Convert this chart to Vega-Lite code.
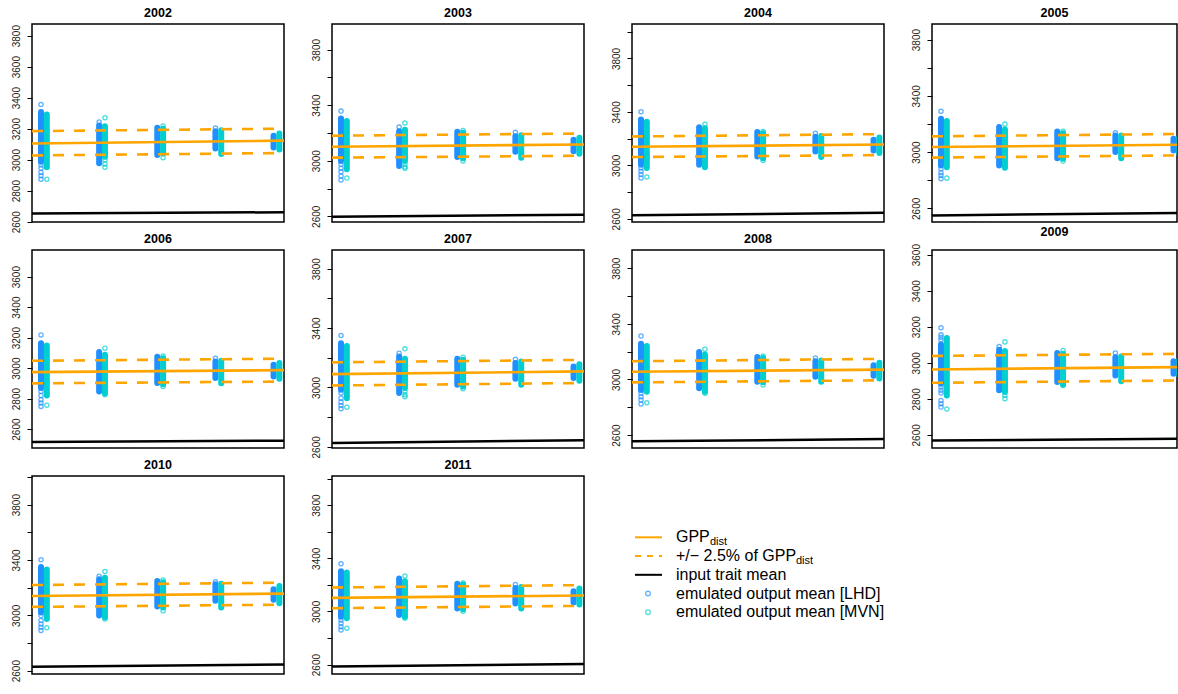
{
"$schema":"https://vega.github.io/schema/vega-lite/v6.json",
"background":"white",
"padding":{"left":10,"top":5,"right":0,"bottom":0},
"columns":4,
"spacing":{"row":28,"column":48},
"bounds":"flush",
"align":"each",
"data":{"values":[
{"p":2002,"k":"st","s":"LHD","x":1,"v":2987,"v2":3307},{"p":2002,"k":"st","s":"MVN","x":1.1,"v":2951,"v2":3292},
{"p":2002,"k":"st","s":"LHD","x":2,"v":2977,"v2":3221},{"p":2002,"k":"st","s":"MVN","x":2.1,"v":3019,"v2":3215},
{"p":2002,"k":"st","s":"LHD","x":3,"v":3030,"v2":3206},{"p":2002,"k":"st","s":"MVN","x":3.1,"v":3040,"v2":3200},
{"p":2002,"k":"st","s":"LHD","x":4,"v":3072,"v2":3183},{"p":2002,"k":"st","s":"MVN","x":4.1,"v":3036,"v2":3189},
{"p":2002,"k":"st","s":"LHD","x":5,"v":3079,"v2":3155},{"p":2002,"k":"st","s":"MVN","x":5.1,"v":3066,"v2":3168},
{"p":2002,"k":"pt","s":"LHD","x":1,"v":3356},{"p":2002,"k":"pt","s":"LHD","x":1,"v":2966},{"p":2002,"k":"pt","s":"LHD","x":1,"v":2945},{"p":2002,"k":"pt","s":"LHD","x":1,"v":2917},{"p":2002,"k":"pt","s":"LHD","x":1,"v":2896},{"p":2002,"k":"pt","s":"LHD","x":1,"v":2874},
{"p":2002,"k":"pt","s":"MVN","x":1.1,"v":2874},{"p":2002,"k":"pt","s":"LHD","x":2,"v":3243},
{"p":2002,"k":"pt","s":"MVN","x":2.1,"v":3270},{"p":2002,"k":"pt","s":"MVN","x":2.1,"v":2998},{"p":2002,"k":"pt","s":"MVN","x":2.1,"v":2972},{"p":2002,"k":"pt","s":"MVN","x":2.1,"v":2951},
{"p":2002,"k":"pt","s":"MVN","x":3.1,"v":3217},{"p":2002,"k":"pt","s":"MVN","x":3.1,"v":3013},{"p":2002,"k":"pt","s":"LHD","x":4,"v":3204},
{"p":2002,"k":"c","x":0.845,"v":3104},{"p":2002,"k":"c","x":5.18,"v":3123},
{"p":2002,"k":"u","x":0.845,"v":3184},{"p":2002,"k":"u","x":5.18,"v":3200},
{"p":2002,"k":"l","x":0.845,"v":3027},{"p":2002,"k":"l","x":5.18,"v":3043},
{"p":2002,"k":"b","x":0.845,"v":2653},{"p":2002,"k":"b","x":5.18,"v":2661},

{"p":2003,"k":"st","s":"LHD","x":1,"v":2998,"v2":3304},{"p":2003,"k":"st","s":"MVN","x":1.1,"v":2938,"v2":3285},
{"p":2003,"k":"st","s":"LHD","x":2,"v":2962,"v2":3213},{"p":2003,"k":"st","s":"MVN","x":2.1,"v":2998,"v2":3223},
{"p":2003,"k":"st","s":"LHD","x":3,"v":3026,"v2":3208},{"p":2003,"k":"st","s":"MVN","x":3.1,"v":3017,"v2":3201},
{"p":2003,"k":"st","s":"LHD","x":4,"v":3065,"v2":3177},{"p":2003,"k":"st","s":"MVN","x":4.1,"v":3022,"v2":3184},
{"p":2003,"k":"st","s":"LHD","x":5,"v":3069,"v2":3151},{"p":2003,"k":"st","s":"MVN","x":5.1,"v":3050,"v2":3165},
{"p":2003,"k":"pt","s":"LHD","x":1,"v":3357},{"p":2003,"k":"pt","s":"LHD","x":1,"v":2974},{"p":2003,"k":"pt","s":"LHD","x":1,"v":2945},{"p":2003,"k":"pt","s":"LHD","x":1,"v":2921},{"p":2003,"k":"pt","s":"LHD","x":1,"v":2890},{"p":2003,"k":"pt","s":"LHD","x":1,"v":2861},
{"p":2003,"k":"pt","s":"MVN","x":1.1,"v":2875},{"p":2003,"k":"pt","s":"LHD","x":2,"v":3242},
{"p":2003,"k":"pt","s":"MVN","x":2.1,"v":3271},{"p":2003,"k":"pt","s":"MVN","x":2.1,"v":2974},{"p":2003,"k":"pt","s":"MVN","x":2.1,"v":2955},{"p":2003,"k":"pt","s":"MVN","x":2.1,"v":2945},
{"p":2003,"k":"pt","s":"MVN","x":3.1,"v":3218},{"p":2003,"k":"pt","s":"MVN","x":3.1,"v":2998},{"p":2003,"k":"pt","s":"LHD","x":4,"v":3204},
{"p":2003,"k":"c","x":0.845,"v":3101},{"p":2003,"k":"c","x":5.18,"v":3117},
{"p":2003,"k":"u","x":0.845,"v":3180},{"p":2003,"k":"u","x":5.18,"v":3196},
{"p":2003,"k":"l","x":0.845,"v":3022},{"p":2003,"k":"l","x":5.18,"v":3036},
{"p":2003,"k":"b","x":0.845,"v":2596},{"p":2003,"k":"b","x":5.18,"v":2612},

{"p":2004,"k":"st","s":"LHD","x":1,"v":3005,"v2":3344},{"p":2004,"k":"st","s":"MVN","x":1.1,"v":2980,"v2":3327},
{"p":2004,"k":"st","s":"LHD","x":2,"v":3005,"v2":3285},{"p":2004,"k":"st","s":"MVN","x":2.1,"v":2985,"v2":3277},
{"p":2004,"k":"st","s":"LHD","x":3,"v":3067,"v2":3250},{"p":2004,"k":"st","s":"MVN","x":3.1,"v":3054,"v2":3240},
{"p":2004,"k":"st","s":"LHD","x":4,"v":3104,"v2":3215},{"p":2004,"k":"st","s":"MVN","x":4.1,"v":3062,"v2":3220},
{"p":2004,"k":"st","s":"LHD","x":5,"v":3111,"v2":3191},{"p":2004,"k":"st","s":"MVN","x":5.1,"v":3092,"v2":3208},
{"p":2004,"k":"pt","s":"LHD","x":1,"v":3401},{"p":2004,"k":"pt","s":"LHD","x":1,"v":2980},{"p":2004,"k":"pt","s":"LHD","x":1,"v":2955},{"p":2004,"k":"pt","s":"LHD","x":1,"v":2931},{"p":2004,"k":"pt","s":"LHD","x":1,"v":2906},
{"p":2004,"k":"pt","s":"MVN","x":1.1,"v":2913},{"p":2004,"k":"pt","s":"MVN","x":2.1,"v":3307},
{"p":2004,"k":"pt","s":"MVN","x":3.1,"v":3253},{"p":2004,"k":"pt","s":"MVN","x":3.1,"v":3037},{"p":2004,"k":"pt","s":"LHD","x":4,"v":3240},
{"p":2004,"k":"c","x":0.845,"v":3139},{"p":2004,"k":"c","x":5.18,"v":3156},
{"p":2004,"k":"u","x":0.845,"v":3216},{"p":2004,"k":"u","x":5.18,"v":3234},
{"p":2004,"k":"l","x":0.845,"v":3062},{"p":2004,"k":"l","x":5.18,"v":3077},
{"p":2004,"k":"b","x":0.845,"v":2626},{"p":2004,"k":"b","x":5.18,"v":2646},

{"p":2005,"k":"st","s":"LHD","x":1,"v":2905,"v2":3237},{"p":2005,"k":"st","s":"MVN","x":1.1,"v":2893,"v2":3222},
{"p":2005,"k":"st","s":"LHD","x":2,"v":2905,"v2":3178},{"p":2005,"k":"st","s":"MVN","x":2.1,"v":2889,"v2":3161},
{"p":2005,"k":"st","s":"LHD","x":3,"v":2957,"v2":3147},{"p":2005,"k":"st","s":"MVN","x":3.1,"v":2953,"v2":3135},
{"p":2005,"k":"st","s":"LHD","x":4,"v":3000,"v2":3118},{"p":2005,"k":"st","s":"MVN","x":4.1,"v":2957,"v2":3118},
{"p":2005,"k":"st","s":"LHD","x":5,"v":3012,"v2":3095},{"p":2005,"k":"st","s":"MVN","x":5.1,"v":2988,"v2":3106},
{"p":2005,"k":"pt","s":"LHD","x":1,"v":3291},{"p":2005,"k":"pt","s":"LHD","x":1,"v":2882},{"p":2005,"k":"pt","s":"LHD","x":1,"v":2853},{"p":2005,"k":"pt","s":"LHD","x":1,"v":2834},{"p":2005,"k":"pt","s":"LHD","x":1,"v":2811},
{"p":2005,"k":"pt","s":"MVN","x":1.1,"v":2815},{"p":2005,"k":"pt","s":"MVN","x":2.1,"v":3199},
{"p":2005,"k":"pt","s":"MVN","x":3.1,"v":3149},{"p":2005,"k":"pt","s":"MVN","x":3.1,"v":2936},{"p":2005,"k":"pt","s":"LHD","x":4,"v":3137},
{"p":2005,"k":"c","x":0.845,"v":3036},{"p":2005,"k":"c","x":5.18,"v":3053},
{"p":2005,"k":"u","x":0.845,"v":3112},{"p":2005,"k":"u","x":5.18,"v":3129},
{"p":2005,"k":"l","x":0.845,"v":2961},{"p":2005,"k":"l","x":5.18,"v":2977},
{"p":2005,"k":"b","x":0.845,"v":2550},{"p":2005,"k":"b","x":5.18,"v":2567},

{"p":2006,"k":"st","s":"LHD","x":1,"v":2869,"v2":3164},{"p":2006,"k":"st","s":"MVN","x":1.1,"v":2821,"v2":3148},
{"p":2006,"k":"st","s":"LHD","x":2,"v":2847,"v2":3105},{"p":2006,"k":"st","s":"MVN","x":2.1,"v":2836,"v2":3087},
{"p":2006,"k":"st","s":"LHD","x":3,"v":2902,"v2":3074},{"p":2006,"k":"st","s":"MVN","x":3.1,"v":2895,"v2":3065},
{"p":2006,"k":"st","s":"LHD","x":4,"v":2935,"v2":3044},{"p":2006,"k":"st","s":"MVN","x":4.1,"v":2900,"v2":3048},
{"p":2006,"k":"st","s":"LHD","x":5,"v":2945,"v2":3022},{"p":2006,"k":"st","s":"MVN","x":5.1,"v":2930,"v2":3033},
{"p":2006,"k":"pt","s":"LHD","x":1,"v":3218},{"p":2006,"k":"pt","s":"LHD","x":1,"v":2847},{"p":2006,"k":"pt","s":"LHD","x":1,"v":2821},{"p":2006,"k":"pt","s":"LHD","x":1,"v":2793},{"p":2006,"k":"pt","s":"LHD","x":1,"v":2771},{"p":2006,"k":"pt","s":"LHD","x":1,"v":2749},
{"p":2006,"k":"pt","s":"MVN","x":1.1,"v":2756},{"p":2006,"k":"pt","s":"MVN","x":2.1,"v":3131},{"p":2006,"k":"pt","s":"MVN","x":2.1,"v":2825},
{"p":2006,"k":"pt","s":"MVN","x":3.1,"v":3079},{"p":2006,"k":"pt","s":"MVN","x":3.1,"v":2880},{"p":2006,"k":"pt","s":"LHD","x":4,"v":3065},
{"p":2006,"k":"c","x":0.845,"v":2974},{"p":2006,"k":"c","x":5.18,"v":2987},
{"p":2006,"k":"u","x":0.845,"v":3048},{"p":2006,"k":"u","x":5.18,"v":3062},
{"p":2006,"k":"l","x":0.845,"v":2900},{"p":2006,"k":"l","x":5.18,"v":2912},
{"p":2006,"k":"b","x":0.845,"v":2516},{"p":2006,"k":"b","x":5.18,"v":2524},

{"p":2007,"k":"st","s":"LHD","x":1,"v":2984,"v2":3298},{"p":2007,"k":"st","s":"MVN","x":1.1,"v":2928,"v2":3280},
{"p":2007,"k":"st","s":"LHD","x":2,"v":2962,"v2":3208},{"p":2007,"k":"st","s":"MVN","x":2.1,"v":2996,"v2":3193},
{"p":2007,"k":"st","s":"LHD","x":3,"v":3018,"v2":3193},{"p":2007,"k":"st","s":"MVN","x":3.1,"v":3007,"v2":3186},
{"p":2007,"k":"st","s":"LHD","x":4,"v":3058,"v2":3164},{"p":2007,"k":"st","s":"MVN","x":4.1,"v":3018,"v2":3175},
{"p":2007,"k":"st","s":"LHD","x":5,"v":3063,"v2":3141},{"p":2007,"k":"st","s":"MVN","x":5.1,"v":3045,"v2":3157},
{"p":2007,"k":"pt","s":"LHD","x":1,"v":3350},{"p":2007,"k":"pt","s":"LHD","x":1,"v":2962},{"p":2007,"k":"pt","s":"LHD","x":1,"v":2928},{"p":2007,"k":"pt","s":"LHD","x":1,"v":2901},{"p":2007,"k":"pt","s":"LHD","x":1,"v":2879},{"p":2007,"k":"pt","s":"LHD","x":1,"v":2857},
{"p":2007,"k":"pt","s":"MVN","x":1.1,"v":2866},{"p":2007,"k":"pt","s":"LHD","x":2,"v":3231},
{"p":2007,"k":"pt","s":"MVN","x":2.1,"v":3260},{"p":2007,"k":"pt","s":"MVN","x":2.1,"v":2973},{"p":2007,"k":"pt","s":"MVN","x":2.1,"v":2951},{"p":2007,"k":"pt","s":"MVN","x":2.1,"v":2937},
{"p":2007,"k":"pt","s":"MVN","x":3.1,"v":3204},{"p":2007,"k":"pt","s":"MVN","x":3.1,"v":2991},{"p":2007,"k":"pt","s":"LHD","x":4,"v":3190},
{"p":2007,"k":"c","x":0.845,"v":3090},{"p":2007,"k":"c","x":5.18,"v":3108},
{"p":2007,"k":"u","x":0.845,"v":3169},{"p":2007,"k":"u","x":5.18,"v":3186},
{"p":2007,"k":"l","x":0.845,"v":3013},{"p":2007,"k":"l","x":5.18,"v":3030},
{"p":2007,"k":"b","x":0.845,"v":2626},{"p":2007,"k":"b","x":5.18,"v":2644},

{"p":2008,"k":"st","s":"LHD","x":1,"v":2924,"v2":3257},{"p":2008,"k":"st","s":"MVN","x":1.1,"v":2912,"v2":3240},
{"p":2008,"k":"st","s":"LHD","x":2,"v":2936,"v2":3198},{"p":2008,"k":"st","s":"MVN","x":2.1,"v":2912,"v2":3179},
{"p":2008,"k":"st","s":"LHD","x":3,"v":2983,"v2":3162},{"p":2008,"k":"st","s":"MVN","x":3.1,"v":2979,"v2":3155},
{"p":2008,"k":"st","s":"LHD","x":4,"v":3019,"v2":3131},{"p":2008,"k":"st","s":"MVN","x":4.1,"v":2983,"v2":3136},
{"p":2008,"k":"st","s":"LHD","x":5,"v":3026,"v2":3102},{"p":2008,"k":"st","s":"MVN","x":5.1,"v":3007,"v2":3121},
{"p":2008,"k":"pt","s":"LHD","x":1,"v":3312},{"p":2008,"k":"pt","s":"LHD","x":1,"v":2900},{"p":2008,"k":"pt","s":"LHD","x":1,"v":2876},{"p":2008,"k":"pt","s":"LHD","x":1,"v":2852},{"p":2008,"k":"pt","s":"LHD","x":1,"v":2824},
{"p":2008,"k":"pt","s":"MVN","x":1.1,"v":2833},{"p":2008,"k":"pt","s":"MVN","x":2.1,"v":3217},{"p":2008,"k":"pt","s":"MVN","x":2.1,"v":2900},
{"p":2008,"k":"pt","s":"MVN","x":3.1,"v":3169},{"p":2008,"k":"pt","s":"MVN","x":3.1,"v":2960},{"p":2008,"k":"pt","s":"LHD","x":4,"v":3155},
{"p":2008,"k":"c","x":0.845,"v":3055},{"p":2008,"k":"c","x":5.18,"v":3071},
{"p":2008,"k":"u","x":0.845,"v":3131},{"p":2008,"k":"u","x":5.18,"v":3148},
{"p":2008,"k":"l","x":0.845,"v":2979},{"p":2008,"k":"l","x":5.18,"v":2994},
{"p":2008,"k":"b","x":0.845,"v":2555},{"p":2008,"k":"b","x":5.18,"v":2571},

{"p":2009,"k":"st","s":"LHD","x":1,"v":2884,"v2":3102},{"p":2009,"k":"st","s":"MVN","x":1.1,"v":2819,"v2":3138},
{"p":2009,"k":"st","s":"LHD","x":2,"v":2847,"v2":3072},{"p":2009,"k":"st","s":"MVN","x":2.1,"v":2838,"v2":3065},
{"p":2009,"k":"st","s":"LHD","x":3,"v":2893,"v2":3054},{"p":2009,"k":"st","s":"MVN","x":3.1,"v":2880,"v2":3050},
{"p":2009,"k":"st","s":"LHD","x":4,"v":2930,"v2":3031},{"p":2009,"k":"st","s":"MVN","x":4.1,"v":2898,"v2":3035},
{"p":2009,"k":"st","s":"LHD","x":5,"v":2939,"v2":3009},{"p":2009,"k":"st","s":"MVN","x":5.1,"v":2930,"v2":3017},
{"p":2009,"k":"pt","s":"LHD","x":1,"v":3194},{"p":2009,"k":"pt","s":"LHD","x":1,"v":3155},{"p":2009,"k":"pt","s":"LHD","x":1,"v":3142},{"p":2009,"k":"pt","s":"LHD","x":1,"v":3127},{"p":2009,"k":"pt","s":"LHD","x":1,"v":2865},{"p":2009,"k":"pt","s":"LHD","x":1,"v":2847},{"p":2009,"k":"pt","s":"LHD","x":1,"v":2832},{"p":2009,"k":"pt","s":"LHD","x":1,"v":2791},{"p":2009,"k":"pt","s":"LHD","x":1,"v":2773},{"p":2009,"k":"pt","s":"LHD","x":1,"v":2754},
{"p":2009,"k":"pt","s":"MVN","x":1.1,"v":2743},{"p":2009,"k":"pt","s":"LHD","x":2,"v":3090},
{"p":2009,"k":"pt","s":"MVN","x":2.1,"v":3116},{"p":2009,"k":"pt","s":"MVN","x":2.1,"v":2819},{"p":2009,"k":"pt","s":"MVN","x":2.1,"v":2801},
{"p":2009,"k":"pt","s":"MVN","x":3.1,"v":3068},{"p":2009,"k":"pt","s":"MVN","x":3.1,"v":2874},{"p":2009,"k":"pt","s":"LHD","x":4,"v":3054},
{"p":2009,"k":"c","x":0.845,"v":2963},{"p":2009,"k":"c","x":5.18,"v":2976},
{"p":2009,"k":"u","x":0.845,"v":3038},{"p":2009,"k":"u","x":5.18,"v":3050},
{"p":2009,"k":"l","x":0.845,"v":2889},{"p":2009,"k":"l","x":5.18,"v":2902},
{"p":2009,"k":"b","x":0.845,"v":2568},{"p":2009,"k":"b","x":5.18,"v":2579},

{"p":2010,"k":"st","s":"LHD","x":1,"v":3021,"v2":3350},{"p":2010,"k":"st","s":"MVN","x":1.1,"v":2974,"v2":3331},
{"p":2010,"k":"st","s":"LHD","x":2,"v":2998,"v2":3260},{"p":2010,"k":"st","s":"MVN","x":2.1,"v":2986,"v2":3271},
{"p":2010,"k":"st","s":"LHD","x":3,"v":3064,"v2":3248},{"p":2010,"k":"st","s":"MVN","x":3.1,"v":3057,"v2":3240},
{"p":2010,"k":"st","s":"LHD","x":4,"v":3105,"v2":3224},{"p":2010,"k":"st","s":"MVN","x":4.1,"v":3057,"v2":3229},
{"p":2010,"k":"st","s":"LHD","x":5,"v":3112,"v2":3188},{"p":2010,"k":"st","s":"MVN","x":5.1,"v":3088,"v2":3212},
{"p":2010,"k":"pt","s":"LHD","x":1,"v":3402},{"p":2010,"k":"pt","s":"LHD","x":1,"v":2998},{"p":2010,"k":"pt","s":"LHD","x":1,"v":2962},{"p":2010,"k":"pt","s":"LHD","x":1,"v":2938},{"p":2010,"k":"pt","s":"LHD","x":1,"v":2914},{"p":2010,"k":"pt","s":"LHD","x":1,"v":2890},
{"p":2010,"k":"pt","s":"MVN","x":1.1,"v":2910},{"p":2010,"k":"pt","s":"LHD","x":2,"v":3283},
{"p":2010,"k":"pt","s":"MVN","x":2.1,"v":3317},{"p":2010,"k":"pt","s":"MVN","x":2.1,"v":2974},
{"p":2010,"k":"pt","s":"MVN","x":3.1,"v":3255},{"p":2010,"k":"pt","s":"MVN","x":3.1,"v":3033},{"p":2010,"k":"pt","s":"LHD","x":4,"v":3243},
{"p":2010,"k":"c","x":0.845,"v":3140},{"p":2010,"k":"c","x":5.18,"v":3157},
{"p":2010,"k":"u","x":0.845,"v":3219},{"p":2010,"k":"u","x":5.18,"v":3236},
{"p":2010,"k":"l","x":0.845,"v":3061},{"p":2010,"k":"l","x":5.18,"v":3077},
{"p":2010,"k":"b","x":0.845,"v":2629},{"p":2010,"k":"b","x":5.18,"v":2645},

{"p":2011,"k":"st","s":"LHD","x":1,"v":2960,"v2":3302},{"p":2011,"k":"st","s":"MVN","x":1.1,"v":2948,"v2":3292},
{"p":2011,"k":"st","s":"LHD","x":2,"v":2973,"v2":3247},{"p":2011,"k":"st","s":"MVN","x":2.1,"v":2960,"v2":3227},
{"p":2011,"k":"st","s":"LHD","x":3,"v":3022,"v2":3209},{"p":2011,"k":"st","s":"MVN","x":3.1,"v":3017,"v2":3202},
{"p":2011,"k":"st","s":"LHD","x":4,"v":3060,"v2":3177},{"p":2011,"k":"st","s":"MVN","x":4.1,"v":3022,"v2":3184},
{"p":2011,"k":"st","s":"LHD","x":5,"v":3067,"v2":3152},{"p":2011,"k":"st","s":"MVN","x":5.1,"v":3052,"v2":3172},
{"p":2011,"k":"pt","s":"LHD","x":1,"v":3359},{"p":2011,"k":"pt","s":"LHD","x":1,"v":2935},{"p":2011,"k":"pt","s":"LHD","x":1,"v":2910},{"p":2011,"k":"pt","s":"LHD","x":1,"v":2885},{"p":2011,"k":"pt","s":"LHD","x":1,"v":2860},
{"p":2011,"k":"pt","s":"MVN","x":1.1,"v":2873},{"p":2011,"k":"pt","s":"MVN","x":2.1,"v":3267},{"p":2011,"k":"pt","s":"MVN","x":2.1,"v":2948},
{"p":2011,"k":"pt","s":"MVN","x":3.1,"v":3214},{"p":2011,"k":"pt","s":"MVN","x":3.1,"v":3002},{"p":2011,"k":"pt","s":"LHD","x":4,"v":3202},
{"p":2011,"k":"c","x":0.845,"v":3102},{"p":2011,"k":"c","x":5.18,"v":3120},
{"p":2011,"k":"u","x":0.845,"v":3180},{"p":2011,"k":"u","x":5.18,"v":3198},
{"p":2011,"k":"l","x":0.845,"v":3024},{"p":2011,"k":"l","x":5.18,"v":3042},
{"p":2011,"k":"b","x":0.845,"v":2586},{"p":2011,"k":"b","x":5.18,"v":2604}
]},
"concat":[
{"title":"2002","width":252,"height":198,"transform":[{"filter":"datum.p==2002"}],
 "encoding":{"x":{"field":"x","type":"quantitative","scale":{"domain":[0.845,5.18],"nice":false,"zero":false},"axis":null},
  "y":{"field":"v","type":"quantitative","scale":{"domain":[2598,3875],"nice":false,"zero":false},"axis":{"title":null,"format":"d","values":[2600,2800,3000,3200,3400,3600,3800]}}},
 "layer":[
  {"transform":[{"filter":"datum.k=='st'"}],"mark":{"type":"rule","strokeWidth":6,"strokeCap":"round"},"encoding":{"y2":{"field":"v2"},"color":{"field":"s","type":"nominal","scale":{"domain":["LHD","MVN"],"range":["#1E90FF","#00CED1"]},"legend":null}}},
  {"transform":[{"filter":"datum.k=='pt'"}],"mark":{"type":"point","filled":false,"size":18,"strokeWidth":1.3},"encoding":{"color":{"field":"s","type":"nominal","scale":{"domain":["LHD","MVN"],"range":["#1E90FF","#00CED1"]},"legend":null}}},
  {"transform":[{"filter":"datum.k=='c'"}],"mark":{"type":"line","color":"#FFA500","strokeWidth":2.6,"clip":true}},
  {"transform":[{"filter":"datum.k=='u'||datum.k=='l'"}],"mark":{"type":"line","color":"#FFA500","strokeWidth":2.6,"strokeDash":[11,10],"clip":true},"encoding":{"detail":{"field":"k"}}},
  {"transform":[{"filter":"datum.k=='b'"}],"mark":{"type":"line","color":"black","strokeWidth":2.5,"clip":true}}
 ]},
{"title":"2003","width":252,"height":198,"transform":[{"filter":"datum.p==2003"}],
 "encoding":{"x":{"field":"x","type":"quantitative","scale":{"domain":[0.845,5.18],"nice":false,"zero":false},"axis":null},
  "y":{"field":"v","type":"quantitative","scale":{"domain":[2559,3984],"nice":false,"zero":false},"axis":{"title":null,"format":"d","values":[2600,2800,3000,3200,3400,3600,3800],"labelExpr":"(datum.value-2600)%400==0?datum.label:''"}}},
 "layer":[
  {"transform":[{"filter":"datum.k=='st'"}],"mark":{"type":"rule","strokeWidth":6,"strokeCap":"round"},"encoding":{"y2":{"field":"v2"},"color":{"field":"s","type":"nominal","scale":{"domain":["LHD","MVN"],"range":["#1E90FF","#00CED1"]},"legend":null}}},
  {"transform":[{"filter":"datum.k=='pt'"}],"mark":{"type":"point","filled":false,"size":18,"strokeWidth":1.3},"encoding":{"color":{"field":"s","type":"nominal","scale":{"domain":["LHD","MVN"],"range":["#1E90FF","#00CED1"]},"legend":null}}},
  {"transform":[{"filter":"datum.k=='c'"}],"mark":{"type":"line","color":"#FFA500","strokeWidth":2.6,"clip":true}},
  {"transform":[{"filter":"datum.k=='u'||datum.k=='l'"}],"mark":{"type":"line","color":"#FFA500","strokeWidth":2.6,"strokeDash":[11,10],"clip":true},"encoding":{"detail":{"field":"k"}}},
  {"transform":[{"filter":"datum.k=='b'"}],"mark":{"type":"line","color":"black","strokeWidth":2.5,"clip":true}}
 ]},
{"title":"2004","width":252,"height":198,"transform":[{"filter":"datum.p==2004"}],
 "encoding":{"x":{"field":"x","type":"quantitative","scale":{"domain":[0.845,5.18],"nice":false,"zero":false},"axis":null},
  "y":{"field":"v","type":"quantitative","scale":{"domain":[2576,4058],"nice":false,"zero":false},"axis":{"title":null,"format":"d","values":[2600,2800,3000,3200,3400,3600,3800,4000],"labelExpr":"(datum.value-2600)%400==0?datum.label:''"}}},
 "layer":[
  {"transform":[{"filter":"datum.k=='st'"}],"mark":{"type":"rule","strokeWidth":6,"strokeCap":"round"},"encoding":{"y2":{"field":"v2"},"color":{"field":"s","type":"nominal","scale":{"domain":["LHD","MVN"],"range":["#1E90FF","#00CED1"]},"legend":null}}},
  {"transform":[{"filter":"datum.k=='pt'"}],"mark":{"type":"point","filled":false,"size":18,"strokeWidth":1.3},"encoding":{"color":{"field":"s","type":"nominal","scale":{"domain":["LHD","MVN"],"range":["#1E90FF","#00CED1"]},"legend":null}}},
  {"transform":[{"filter":"datum.k=='c'"}],"mark":{"type":"line","color":"#FFA500","strokeWidth":2.6,"clip":true}},
  {"transform":[{"filter":"datum.k=='u'||datum.k=='l'"}],"mark":{"type":"line","color":"#FFA500","strokeWidth":2.6,"strokeDash":[11,10],"clip":true},"encoding":{"detail":{"field":"k"}}},
  {"transform":[{"filter":"datum.k=='b'"}],"mark":{"type":"line","color":"black","strokeWidth":2.5,"clip":true}}
 ]},
{"title":"2005","width":245,"height":198,"transform":[{"filter":"datum.p==2005"}],
 "encoding":{"x":{"field":"x","type":"quantitative","scale":{"domain":[0.845,5.06],"nice":false,"zero":false},"axis":null},
  "y":{"field":"v","type":"quantitative","scale":{"domain":[2503,3911],"nice":false,"zero":false},"axis":{"title":null,"format":"d","values":[2600,2800,3000,3200,3400,3600,3800],"labelExpr":"(datum.value-2600)%400==0?datum.label:''"}}},
 "layer":[
  {"transform":[{"filter":"datum.k=='st'"}],"mark":{"type":"rule","strokeWidth":6,"strokeCap":"round","clip":true},"encoding":{"y2":{"field":"v2"},"color":{"field":"s","type":"nominal","scale":{"domain":["LHD","MVN"],"range":["#1E90FF","#00CED1"]},"legend":null}}},
  {"transform":[{"filter":"datum.k=='pt'"}],"mark":{"type":"point","filled":false,"size":18,"strokeWidth":1.3,"clip":true},"encoding":{"color":{"field":"s","type":"nominal","scale":{"domain":["LHD","MVN"],"range":["#1E90FF","#00CED1"]},"legend":null}}},
  {"transform":[{"filter":"datum.k=='c'"}],"mark":{"type":"line","color":"#FFA500","strokeWidth":2.6,"clip":true}},
  {"transform":[{"filter":"datum.k=='u'||datum.k=='l'"}],"mark":{"type":"line","color":"#FFA500","strokeWidth":2.6,"strokeDash":[11,10],"clip":true},"encoding":{"detail":{"field":"k"}}},
  {"transform":[{"filter":"datum.k=='b'"}],"mark":{"type":"line","color":"black","strokeWidth":2.5,"clip":true}}
 ]},
{"title":"2006","width":252,"height":198,"transform":[{"filter":"datum.p==2006"}],
 "encoding":{"x":{"field":"x","type":"quantitative","scale":{"domain":[0.845,5.18],"nice":false,"zero":false},"axis":null},
  "y":{"field":"v","type":"quantitative","scale":{"domain":[2476,3775],"nice":false,"zero":false},"axis":{"title":null,"format":"d","values":[2600,2800,3000,3200,3400,3600]}}},
 "layer":[
  {"transform":[{"filter":"datum.k=='st'"}],"mark":{"type":"rule","strokeWidth":6,"strokeCap":"round"},"encoding":{"y2":{"field":"v2"},"color":{"field":"s","type":"nominal","scale":{"domain":["LHD","MVN"],"range":["#1E90FF","#00CED1"]},"legend":null}}},
  {"transform":[{"filter":"datum.k=='pt'"}],"mark":{"type":"point","filled":false,"size":18,"strokeWidth":1.3},"encoding":{"color":{"field":"s","type":"nominal","scale":{"domain":["LHD","MVN"],"range":["#1E90FF","#00CED1"]},"legend":null}}},
  {"transform":[{"filter":"datum.k=='c'"}],"mark":{"type":"line","color":"#FFA500","strokeWidth":2.6,"clip":true}},
  {"transform":[{"filter":"datum.k=='u'||datum.k=='l'"}],"mark":{"type":"line","color":"#FFA500","strokeWidth":2.6,"strokeDash":[11,10],"clip":true},"encoding":{"detail":{"field":"k"}}},
  {"transform":[{"filter":"datum.k=='b'"}],"mark":{"type":"line","color":"black","strokeWidth":2.5,"clip":true}}
 ]},
{"title":"2007","width":252,"height":198,"transform":[{"filter":"datum.p==2007"}],
 "encoding":{"x":{"field":"x","type":"quantitative","scale":{"domain":[0.845,5.18],"nice":false,"zero":false},"axis":null},
  "y":{"field":"v","type":"quantitative","scale":{"domain":[2592,3926],"nice":false,"zero":false},"axis":{"title":null,"format":"d","values":[2600,2800,3000,3200,3400,3600,3800],"labelExpr":"(datum.value-2600)%400==0?datum.label:''"}}},
 "layer":[
  {"transform":[{"filter":"datum.k=='st'"}],"mark":{"type":"rule","strokeWidth":6,"strokeCap":"round"},"encoding":{"y2":{"field":"v2"},"color":{"field":"s","type":"nominal","scale":{"domain":["LHD","MVN"],"range":["#1E90FF","#00CED1"]},"legend":null}}},
  {"transform":[{"filter":"datum.k=='pt'"}],"mark":{"type":"point","filled":false,"size":18,"strokeWidth":1.3},"encoding":{"color":{"field":"s","type":"nominal","scale":{"domain":["LHD","MVN"],"range":["#1E90FF","#00CED1"]},"legend":null}}},
  {"transform":[{"filter":"datum.k=='c'"}],"mark":{"type":"line","color":"#FFA500","strokeWidth":2.6,"clip":true}},
  {"transform":[{"filter":"datum.k=='u'||datum.k=='l'"}],"mark":{"type":"line","color":"#FFA500","strokeWidth":2.6,"strokeDash":[11,10],"clip":true},"encoding":{"detail":{"field":"k"}}},
  {"transform":[{"filter":"datum.k=='b'"}],"mark":{"type":"line","color":"black","strokeWidth":2.5,"clip":true}}
 ]},
{"title":"2008","width":252,"height":198,"transform":[{"filter":"datum.p==2008"}],
 "encoding":{"x":{"field":"x","type":"quantitative","scale":{"domain":[0.845,5.18],"nice":false,"zero":false},"axis":null},
  "y":{"field":"v","type":"quantitative","scale":{"domain":[2507,3931],"nice":false,"zero":false},"axis":{"title":null,"format":"d","values":[2600,2800,3000,3200,3400,3600,3800],"labelExpr":"(datum.value-2600)%400==0?datum.label:''"}}},
 "layer":[
  {"transform":[{"filter":"datum.k=='st'"}],"mark":{"type":"rule","strokeWidth":6,"strokeCap":"round"},"encoding":{"y2":{"field":"v2"},"color":{"field":"s","type":"nominal","scale":{"domain":["LHD","MVN"],"range":["#1E90FF","#00CED1"]},"legend":null}}},
  {"transform":[{"filter":"datum.k=='pt'"}],"mark":{"type":"point","filled":false,"size":18,"strokeWidth":1.3},"encoding":{"color":{"field":"s","type":"nominal","scale":{"domain":["LHD","MVN"],"range":["#1E90FF","#00CED1"]},"legend":null}}},
  {"transform":[{"filter":"datum.k=='c'"}],"mark":{"type":"line","color":"#FFA500","strokeWidth":2.6,"clip":true}},
  {"transform":[{"filter":"datum.k=='u'||datum.k=='l'"}],"mark":{"type":"line","color":"#FFA500","strokeWidth":2.6,"strokeDash":[11,10],"clip":true},"encoding":{"detail":{"field":"k"}}},
  {"transform":[{"filter":"datum.k=='b'"}],"mark":{"type":"line","color":"black","strokeWidth":2.5,"clip":true}}
 ]},
{"title":"2009","width":245,"height":198,"transform":[{"filter":"datum.p==2009"}],
 "encoding":{"x":{"field":"x","type":"quantitative","scale":{"domain":[0.845,5.06],"nice":false,"zero":false},"axis":null},
  "y":{"field":"v","type":"quantitative","scale":{"domain":[2527,3626],"nice":false,"zero":false},"axis":{"title":null,"format":"d","values":[2600,2800,3000,3200,3400,3600]}}},
 "layer":[
  {"transform":[{"filter":"datum.k=='st'"}],"mark":{"type":"rule","strokeWidth":6,"strokeCap":"round","clip":true},"encoding":{"y2":{"field":"v2"},"color":{"field":"s","type":"nominal","scale":{"domain":["LHD","MVN"],"range":["#1E90FF","#00CED1"]},"legend":null}}},
  {"transform":[{"filter":"datum.k=='pt'"}],"mark":{"type":"point","filled":false,"size":18,"strokeWidth":1.3,"clip":true},"encoding":{"color":{"field":"s","type":"nominal","scale":{"domain":["LHD","MVN"],"range":["#1E90FF","#00CED1"]},"legend":null}}},
  {"transform":[{"filter":"datum.k=='c'"}],"mark":{"type":"line","color":"#FFA500","strokeWidth":2.6,"clip":true}},
  {"transform":[{"filter":"datum.k=='u'||datum.k=='l'"}],"mark":{"type":"line","color":"#FFA500","strokeWidth":2.6,"strokeDash":[11,10],"clip":true},"encoding":{"detail":{"field":"k"}}},
  {"transform":[{"filter":"datum.k=='b'"}],"mark":{"type":"line","color":"black","strokeWidth":2.5,"clip":true}}
 ]},
{"title":"2010","width":252,"height":198,"transform":[{"filter":"datum.p==2010"}],
 "encoding":{"x":{"field":"x","type":"quantitative","scale":{"domain":[0.845,5.18],"nice":false,"zero":false},"axis":null},
  "y":{"field":"v","type":"quantitative","scale":{"domain":[2576,4007],"nice":false,"zero":false},"axis":{"title":null,"format":"d","values":[2600,2800,3000,3200,3400,3600,3800,4000],"labelExpr":"(datum.value-2600)%400==0?datum.label:''"}}},
 "layer":[
  {"transform":[{"filter":"datum.k=='st'"}],"mark":{"type":"rule","strokeWidth":6,"strokeCap":"round"},"encoding":{"y2":{"field":"v2"},"color":{"field":"s","type":"nominal","scale":{"domain":["LHD","MVN"],"range":["#1E90FF","#00CED1"]},"legend":null}}},
  {"transform":[{"filter":"datum.k=='pt'"}],"mark":{"type":"point","filled":false,"size":18,"strokeWidth":1.3},"encoding":{"color":{"field":"s","type":"nominal","scale":{"domain":["LHD","MVN"],"range":["#1E90FF","#00CED1"]},"legend":null}}},
  {"transform":[{"filter":"datum.k=='c'"}],"mark":{"type":"line","color":"#FFA500","strokeWidth":2.6,"clip":true}},
  {"transform":[{"filter":"datum.k=='u'||datum.k=='l'"}],"mark":{"type":"line","color":"#FFA500","strokeWidth":2.6,"strokeDash":[11,10],"clip":true},"encoding":{"detail":{"field":"k"}}},
  {"transform":[{"filter":"datum.k=='b'"}],"mark":{"type":"line","color":"black","strokeWidth":2.5,"clip":true}}
 ]},
{"title":"2011","width":252,"height":198,"transform":[{"filter":"datum.p==2011"}],
 "encoding":{"x":{"field":"x","type":"quantitative","scale":{"domain":[0.845,5.18],"nice":false,"zero":false},"axis":null},
  "y":{"field":"v","type":"quantitative","scale":{"domain":[2529,4019],"nice":false,"zero":false},"axis":{"title":null,"format":"d","values":[2600,2800,3000,3200,3400,3600,3800,4000],"labelExpr":"(datum.value-2600)%400==0?datum.label:''"}}},
 "layer":[
  {"transform":[{"filter":"datum.k=='st'"}],"mark":{"type":"rule","strokeWidth":6,"strokeCap":"round"},"encoding":{"y2":{"field":"v2"},"color":{"field":"s","type":"nominal","scale":{"domain":["LHD","MVN"],"range":["#1E90FF","#00CED1"]},"legend":null}}},
  {"transform":[{"filter":"datum.k=='pt'"}],"mark":{"type":"point","filled":false,"size":18,"strokeWidth":1.3},"encoding":{"color":{"field":"s","type":"nominal","scale":{"domain":["LHD","MVN"],"range":["#1E90FF","#00CED1"]},"legend":null}}},
  {"transform":[{"filter":"datum.k=='c'"}],"mark":{"type":"line","color":"#FFA500","strokeWidth":2.6,"clip":true}},
  {"transform":[{"filter":"datum.k=='u'||datum.k=='l'"}],"mark":{"type":"line","color":"#FFA500","strokeWidth":2.6,"strokeDash":[11,10],"clip":true},"encoding":{"detail":{"field":"k"}}},
  {"transform":[{"filter":"datum.k=='b'"}],"mark":{"type":"line","color":"black","strokeWidth":2.5,"clip":true}}
 ]},
{"width":252,"height":198,"view":{"stroke":null},
 "data":{"values":[{"r":1,"t":"GPP"},{"r":2,"t":"+/\u2212 2.5% of GPP"},{"r":3,"t":"input trait mean"},{"r":4,"t":"emulated output mean [LHD]"},{"r":5,"t":"emulated output mean [MVN]"}]},
 "encoding":{"y":{"field":"r","type":"quantitative","scale":{"domain":[-2.27,8.29],"reverse":true,"nice":false,"zero":false},"axis":null}},
 "layer":[
  {"mark":{"type":"text","align":"left","baseline":"middle","fontSize":16,"color":"black"},"encoding":{"x":{"datum":1.76,"type":"quantitative","scale":{"domain":[0,10.08],"nice":false,"zero":false},"axis":null},"text":{"field":"t"}}},
  {"transform":[{"filter":"datum.r==1"}],"mark":{"type":"text","align":"left","baseline":"middle","fontSize":11,"dy":5,"color":"black"},"encoding":{"x":{"datum":3.12,"type":"quantitative"},"text":{"value":"dist"}}},
  {"transform":[{"filter":"datum.r==2"}],"mark":{"type":"text","align":"left","baseline":"middle","fontSize":11,"dy":5,"color":"black"},"encoding":{"x":{"datum":6.56,"type":"quantitative"},"text":{"value":"dist"}}},
  {"transform":[{"filter":"datum.r==1"}],"mark":{"type":"rule","color":"#FFA500","strokeWidth":2},"encoding":{"x":{"datum":0.12,"type":"quantitative"},"x2":{"datum":1.2}}},
  {"transform":[{"filter":"datum.r==2"}],"mark":{"type":"rule","color":"#FFA500","strokeWidth":2,"strokeDash":[6,6]},"encoding":{"x":{"datum":0.12,"type":"quantitative"},"x2":{"datum":1.2}}},
  {"transform":[{"filter":"datum.r==3"}],"mark":{"type":"rule","color":"black","strokeWidth":2},"encoding":{"x":{"datum":0.12,"type":"quantitative"},"x2":{"datum":1.2}}},
  {"transform":[{"filter":"datum.r==4"}],"mark":{"type":"point","filled":false,"size":22,"strokeWidth":1.3,"color":"#1E90FF"},"encoding":{"x":{"datum":0.64,"type":"quantitative"}}},
  {"transform":[{"filter":"datum.r==5"}],"mark":{"type":"point","filled":false,"size":22,"strokeWidth":1.3,"color":"#00CED1"},"encoding":{"x":{"datum":0.64,"type":"quantitative"}}}
 ]}
],
"config":{
 "font":"Liberation Sans",
 "view":{"stroke":"black","strokeWidth":1.5},
 "title":{"fontSize":12.5,"fontWeight":"bold","offset":5,"color":"black","font":"Liberation Sans"},
 "axisY":{"domain":false,"grid":false,"tickColor":"black","tickSize":5,"tickWidth":1,"labelAngle":270,"labelAlign":"center","labelBaseline":"alphabetic","labelFontSize":10,"labelColor":"#222","labelPadding":8,"labelFont":"Liberation Sans","labelOverlap":false,"labelBound":false,"labelFlush":false}
}
}
